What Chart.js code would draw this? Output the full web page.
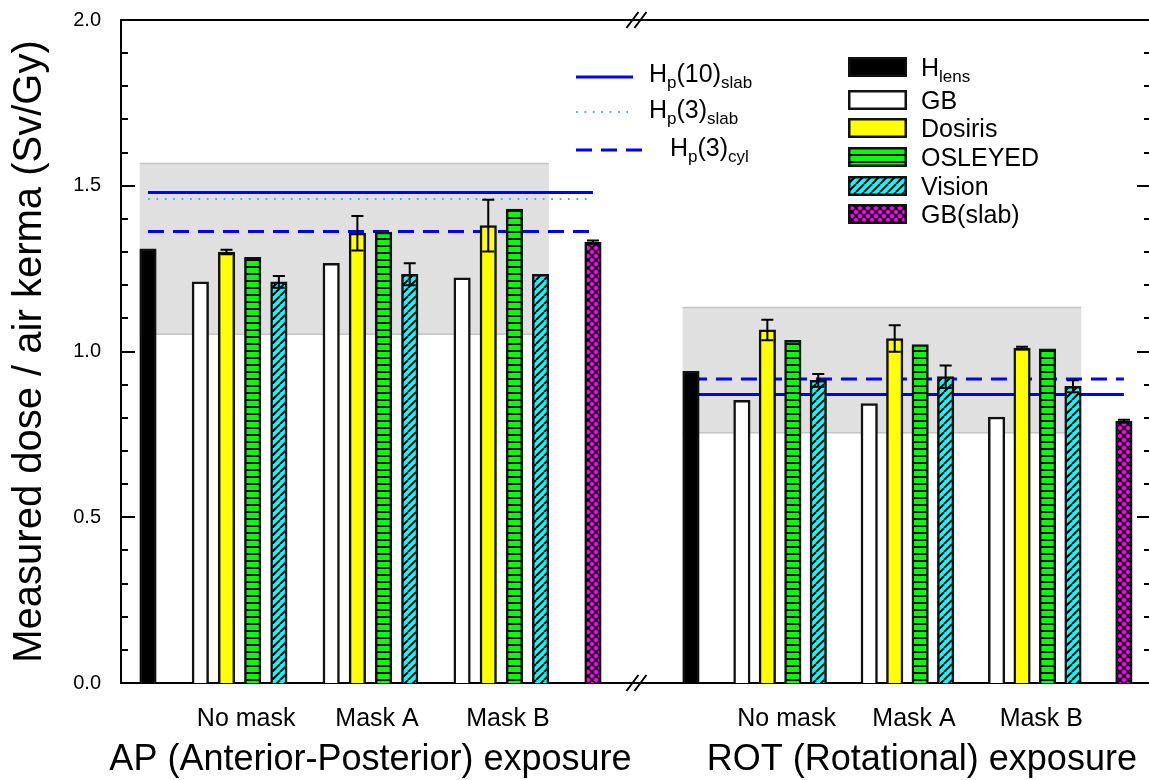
<!DOCTYPE html>
<html>
<head>
<meta charset="utf-8">
<script src="https://cdn.jsdelivr.net/npm/chart.js@4.4.1/dist/chart.umd.min.js"></script>
<style>
  html, body { margin: 0; padding: 0; background: #fff; overflow: hidden; }
  #wrap { width: 1153px; height: 780px; }
</style>
</head>
<body>
<div id="wrap"><canvas id="c" width="1153" height="780"></canvas></div>
<script>
// ---- data ----
const exposureTitles = ['AP (Anterior-Posterior) exposure', 'ROT (Rotational) exposure'];
const maskLabels = ['No mask', 'Mask A', 'Mask B'];
const yTickValues = [0, 0.5, 1.0, 1.5, 2.0];

// one value per exposure (AP, ROT)
const hLens    = [1.31, 0.94];
const gbSlab   = [1.33, 0.79];
const gbSlabErr = [0.005, 0.004];

// per exposure, per mask (No mask, Mask A, Mask B)
const gb         = [[1.21, 1.266, 1.222], [0.853, 0.843, 0.802]];
const dosiris    = [[1.30, 1.357, 1.38],  [1.065, 1.039, 1.01]];
const dosirisErr = [[0.007, 0.052, 0.078], [0.031, 0.040, 0.004]];
const osleyed    = [[1.284, 1.36, 1.43],  [1.034, 1.021, 1.008]];
const vision     = [[1.21, 1.233, 1.233], [0.913, 0.924, 0.895]];
const visionErr  = [[0.018, 0.033, 0.0],  [0.019, 0.034, 0.018]];

// reference conversion coefficients per exposure
const hp10Slab = [1.48, 0.87];
const hp3Slab  = [1.46, null];
const hp3Cyl   = [1.362, 0.917];

// shaded range per exposure
const bandLow  = [1.052, 0.755];
const bandHigh = [1.567, 1.133];

// ---- layout helpers (slot positions on the x scale) ----
const groupOrigin = [0, 20.744];
const groupStep = [1, 0.973];
const slot = (e, k) => groupOrigin[e] + groupStep[e] * k;
const maskSlot = (m, s) => 2 + 5 * m + s;
const BAR_W = 16.5;
const FONT = '"Liberation Sans", Arial, Helvetica, sans-serif';

Chart.defaults.font.family = FONT;
Chart.defaults.color = '#000';

const canvas = document.getElementById('c');
const mainCtx = canvas.getContext('2d');

function makePattern(w, h, paint) {
  const t = document.createElement('canvas');
  t.width = w; t.height = h;
  const g = t.getContext('2d');
  paint(g, w, h);
  return mainCtx.createPattern(t, 'repeat');
}

const fills = {
  hlens: '#000000',
  gb: '#ffffff',
  dosiris: '#ffff00',
  osleyed: makePattern(4, 7, (g, w, h) => {
    g.fillStyle = '#00ff00'; g.fillRect(0, 0, w, h);
    g.fillStyle = '#000'; g.fillRect(0, 0, w, 2);
  }),
  vision: makePattern(8, 8, (g, w, h) => {
    g.fillStyle = '#00ffff'; g.fillRect(0, 0, w, h);
    g.strokeStyle = '#000'; g.lineWidth = 2;
    for (let k = -1; k <= 1; k++) {
      g.beginPath(); g.moveTo(k * w, h); g.lineTo(k * w + w, 0); g.stroke();
    }
  }),
  gbslab: makePattern(8, 8, (g, w, h) => {
    g.fillStyle = '#ff00ff'; g.fillRect(0, 0, w, h);
    g.strokeStyle = '#000'; g.lineWidth = 1.6;
    for (let k = -1; k <= 1; k++) {
      g.beginPath(); g.moveTo(k * w, h); g.lineTo(k * w + w, 0); g.stroke();
      g.beginPath(); g.moveTo(k * w, 0); g.lineTo(k * w + w, h); g.stroke();
    }
  })
};

function perMask(values, s) {
  const pts = [];
  values.forEach((row, e) => row.forEach((v, m) => pts.push({ x: slot(e, maskSlot(m, s)), y: v })));
  return pts;
}

const datasets = [
  { label: 'H_lens', data: hLens.map((v, e) => ({ x: slot(e, 0), y: v })), backgroundColor: fills.hlens },
  { label: 'GB', data: perMask(gb, 0), backgroundColor: fills.gb },
  { label: 'Dosiris', data: perMask(dosiris, 1), backgroundColor: fills.dosiris, err: dosirisErr.flat() },
  { label: 'OSLEYED', data: perMask(osleyed, 2), backgroundColor: fills.osleyed },
  { label: 'Vision', data: perMask(vision, 3), backgroundColor: fills.vision, err: visionErr.flat() },
  { label: 'GB(slab)', data: gbSlab.map((v, e) => ({ x: slot(e, 17), y: v })), backgroundColor: fills.gbslab, err: gbSlabErr }
];

function drawRich(ctx, parts, x, y) {
  // parts: [text, size, baselineShift]
  let cx = x;
  for (const [t, size, dy] of parts) {
    ctx.font = size + 'px ' + FONT;
    ctx.fillText(t, cx, y + dy);
    cx += ctx.measureText(t).width;
  }
}

const decor = {
  id: 'decor',
  beforeDatasetsDraw(chart) {
    const { ctx, scales: { x, y } } = chart;
    ctx.save();
    for (let e = 0; e < 2; e++) {
      const x0 = x.getPixelForValue(slot(e, 0)) - BAR_W / 2;
      const x1 = x.getPixelForValue(slot(e, 15)) + BAR_W / 2;
      const yt = y.getPixelForValue(bandHigh[e]);
      const yb = y.getPixelForValue(bandLow[e]);
      ctx.fillStyle = '#e0e0e0';
      ctx.fillRect(x0, yt, x1 - x0, yb - yt);
      ctx.strokeStyle = '#c4c4c4';
      ctx.lineWidth = 1.5;
      ctx.beginPath();
      ctx.moveTo(x0, yt); ctx.lineTo(x1, yt);
      ctx.moveTo(x0, yb); ctx.lineTo(x1, yb);
      ctx.stroke();

      const xa = x.getPixelForValue(slot(e, 0));
      const xb = x.getPixelForValue(slot(e, 17));
      const hline = (v, color, width, dash) => {
        if (v === null) return;
        const py = y.getPixelForValue(v);
        ctx.strokeStyle = color; ctx.lineWidth = width; ctx.setLineDash(dash);
        ctx.beginPath(); ctx.moveTo(xa, py); ctx.lineTo(xb, py); ctx.stroke();
      };
      hline(hp3Slab[e], '#4fb2d2', 1.8, [1.8, 6.6]);
      hline(hp10Slab[e], '#0000ff', 3, []);
      hline(hp3Cyl[e], '#0000ff', 3, [16, 9]);
      ctx.setLineDash([]);
    }
    ctx.restore();
  },
  afterDatasetsDraw(chart) {
    const { ctx, scales: { x, y } } = chart;
    ctx.save();
    ctx.strokeStyle = '#000';
    ctx.lineWidth = 2;
    chart.data.datasets.forEach(ds => {
      if (!ds.err) return;
      ds.data.forEach((p, i) => {
        const e = ds.err[i];
        if (!e) return;
        const px = x.getPixelForValue(p.x);
        const yTop = y.getPixelForValue(p.y + e);
        const yBot = y.getPixelForValue(p.y - e);
        ctx.beginPath();
        ctx.moveTo(px, yTop); ctx.lineTo(px, yBot);
        ctx.moveTo(px - 6, yTop); ctx.lineTo(px + 6, yTop);
        ctx.moveTo(px - 6, yBot); ctx.lineTo(px + 6, yBot);
        ctx.stroke();
      });
    });
    ctx.restore();
  },
  afterDraw(chart) {
    const { ctx, chartArea: a, scales: { x, y } } = chart;
    ctx.save();
    ctx.strokeStyle = '#000';
    ctx.lineWidth = 2;

    // top frame line
    ctx.beginPath(); ctx.moveTo(a.left, a.top); ctx.lineTo(a.right, a.top); ctx.stroke();

    // inward ticks on left and right axes
    for (let i = 0; i <= 20; i++) {
      const v = i / 10;
      const py = Math.round(y.getPixelForValue(v));
      const len = (i % 5 === 0) ? 14 : 7;
      ctx.beginPath();
      ctx.moveTo(a.left, py); ctx.lineTo(a.left + len, py);
      ctx.moveTo(a.right, py); ctx.lineTo(a.right - len, py);
      ctx.stroke();
    }

    // axis break marks
    const bx = x.getPixelForValue(18.7);
    [a.top, a.bottom].forEach(py => {
      ctx.beginPath();
      ctx.moveTo(bx - 11, py + 8); ctx.lineTo(bx + 1, py - 8);
      ctx.moveTo(bx - 3, py + 8); ctx.lineTo(bx + 9, py - 8);
      ctx.stroke();
    });

    // exposure titles under each group
    ctx.fillStyle = '#000';
    ctx.font = '36px ' + FONT;
    ctx.textAlign = 'center';
    ctx.textBaseline = 'alphabetic';
    ctx.fillText(exposureTitles[0], x.getPixelForValue(slot(0, 8.5)), 770);
    ctx.fillText(exposureTitles[1], x.getPixelForValue(slot(1, 8.5) + 0.55), 770);

    // legend: reference lines
    ctx.textAlign = 'left';
    const lx0 = 576;
    ctx.strokeStyle = '#0000ff'; ctx.lineWidth = 3;
    ctx.beginPath(); ctx.moveTo(lx0, 77); ctx.lineTo(633, 77); ctx.stroke();
    ctx.setLineDash([16, 9]);
    ctx.beginPath(); ctx.moveTo(lx0, 150); ctx.lineTo(643, 150); ctx.stroke();
    ctx.setLineDash([1.8, 6.6]);
    ctx.strokeStyle = '#4fb2d2'; ctx.lineWidth = 1.8;
    ctx.beginPath(); ctx.moveTo(lx0, 112); ctx.lineTo(628, 112); ctx.stroke();
    ctx.setLineDash([]);
    drawRich(ctx, [['H', 25, 0], ['p', 17, 6], ['(10)', 25, 0], ['slab', 17, 6]], 649, 82);
    drawRich(ctx, [['H', 25, 0], ['p', 17, 6], ['(3)', 25, 0], ['slab', 17, 6]], 649, 118);
    drawRich(ctx, [['H', 25, 0], ['p', 17, 6], ['(3)', 25, 0], ['cyl', 17, 6]], 670, 156);

    // legend: bar series
    const rows = [
      { fill: fills.hlens, cy: 67, text: [['H', 25, 0], ['lens', 17, 6]] },
      { fill: fills.gb, cy: 100, text: [['GB', 25, 0]] },
      { fill: fills.dosiris, cy: 128, text: [['Dosiris', 25, 0]] },
      { fill: fills.osleyed, cy: 157, text: [['OSLEYED', 25, 0]] },
      { fill: fills.vision, cy: 186, text: [['Vision', 25, 0]] },
      { fill: fills.gbslab, cy: 214, text: [['GB(slab)', 25, 0]] }
    ];
    rows.forEach(r => {
      ctx.fillStyle = r.fill;
      ctx.fillRect(848, r.cy - 10, 59, 20);
      ctx.strokeStyle = '#111'; ctx.lineWidth = 2.5;
      ctx.strokeRect(849.25, r.cy - 8.75, 56.5, 17.5);
      ctx.fillStyle = '#000';
      drawRich(ctx, r.text, 921, r.cy + 9);
    });
    ctx.restore();
  }
};

new Chart(canvas, {
  type: 'bar',
  data: { datasets },
  options: {
    responsive: false,
    animation: false,
    devicePixelRatio: 1,
    layout: { padding: { left: 0, right: 2, top: 20, bottom: 0 } },
    datasets: {
      bar: {
        grouped: false,
        barThickness: BAR_W,
        borderWidth: 2.5,
        borderColor: '#111',
        borderSkipped: 'start'
      }
    },
    plugins: { legend: { display: false }, tooltip: { enabled: false } },
    scales: {
      x: {
        type: 'linear',
        offset: false,
        min: -1.031,
        max: 38.32,
        z: 1,
        grid: { display: false, drawTicks: false },
        border: { display: true, color: '#000', width: 2 },
        afterBuildTicks(scale) {
          const t = [];
          for (let e = 0; e < 2; e++)
            for (let m = 0; m < 3; m++) t.push({ value: slot(e, maskSlot(m, 1.5)) + 0.25 });
          scale.ticks = t;
        },
        ticks: {
          autoSkip: false, maxRotation: 0, minRotation: 0,
          padding: 21,
          font: { size: 25 },
          color: '#000',
          callback: (v, i) => maskLabels[i % 3]
        },
        afterFit(scale) {
          scale.height = 97;
          scale.paddingLeft = 0;
          scale.paddingRight = 0;
        }
      },
      y: {
        type: 'linear',
        min: 0,
        max: 2,
        z: 1,
        grid: { display: false, drawTicks: false },
        border: { display: true, color: '#000', width: 2 },
        afterBuildTicks(scale) { scale.ticks = yTickValues.map(v => ({ value: v })); },
        ticks: {
          padding: 20,
          font: { size: 20 },
          color: '#000',
          callback: v => Number(v).toFixed(1)
        },
        title: {
          display: true,
          text: 'Measured dose / air kerma (Sv/Gy)',
          font: { size: 40 },
          color: '#000',
          padding: { top: 6, bottom: 0 }
        },
        afterFit(scale) {
          scale.width = 121;
          scale.paddingTop = 0;
          scale.paddingBottom = 0;
        }
      }
    }
  },
  plugins: [decor]
});
</script>
</body>
</html>
